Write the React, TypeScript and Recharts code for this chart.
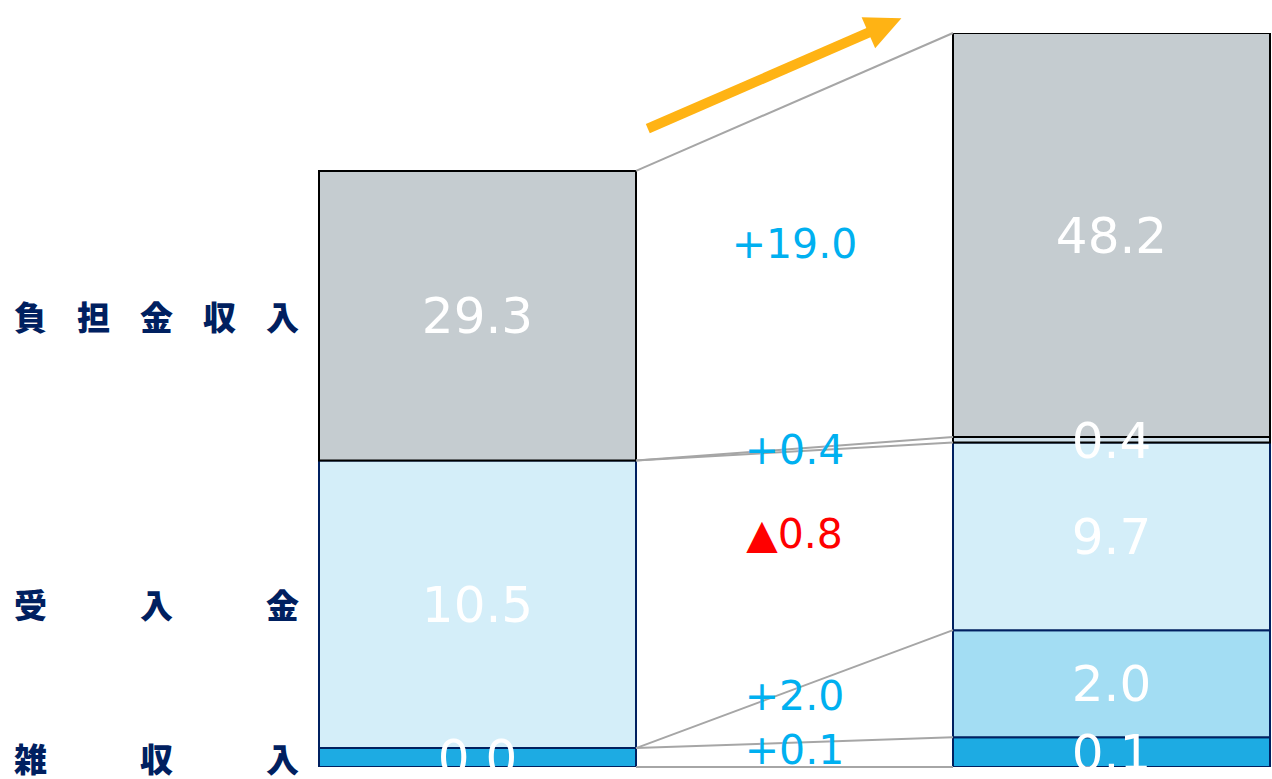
import React from 'react';
import { BarChart, Bar, XAxis, YAxis, LabelList, ReferenceLine, ReferenceDot } from 'recharts';

// left bar (bottom -> top)
const leftNames = ['雑収入', '受入金', '負担金収入'];
const leftValues = [0.04, 10.5, 29.3];
const leftKeys = ['zatsu', 'ukeire', 'futan'];

// right bar (bottom -> top)
const rightValues = [0.1, 2.0, 9.7, 0.4, 48.2];
const rightKeys = ['r1', 'r2', 'r3', 'r4', 'r5'];

// change labels shown between the bars
const diffTexts = ['+19.0', '+0.4', '▲0.8', '+2.0', '+0.1'];

const NAVY = '#002060';
const leftFill = ['#1DABE3', '#D4EEF9', '#C5CCD0'];
const leftStroke = [NAVY, NAVY, '#000000'];
const rightFill = ['#1DABE3', '#A3DDF3', '#D4EEF9', '#CFDFE9', '#C5CCD0'];
const rightStroke = [NAVY, NAVY, NAVY, '#000000', '#000000'];

const cum = (arr: number[]) => arr.reduce<number[]>((acc, v) => [...acc, acc[acc.length - 1] + v], [0]);
const leftCum = cum(leftValues);
const rightCum = cum(rightValues);
const total = rightCum[rightCum.length - 1];

// connector lines: [left boundary index, right boundary index]
const connectors = [[3, 5], [2, 4], [2, 3], [1, 2], [1, 1], [0, 0]];

const mid = (a: number, b: number) => (a + b) / 2;
// anchors for change labels: between left and right segment centres
const diffAnchors = [
  mid(mid(leftCum[2], leftCum[3]), mid(rightCum[4], rightCum[5])),
  mid(leftCum[2], mid(rightCum[3], rightCum[4])),
  mid(mid(leftCum[1], leftCum[2]), mid(rightCum[2], rightCum[3])),
  mid(leftCum[1], mid(rightCum[1], rightCum[2])),
  mid(mid(leftCum[0], leftCum[1]), mid(rightCum[0], rightCum[1])),
];

const data = [
  Object.fromEntries([['name', 'L'], ...leftKeys.map((k, i) => [k, leftValues[i]])]),
  { name: 'G' },
  Object.fromEntries([['name', 'R'], ...rightKeys.map((k, i) => [k, rightValues[i]])]),
];

// tick values at the visual centre of each left segment (sqrt axis)
const leftTicks = leftValues.map((_, i) => Math.pow((Math.sqrt(leftCum[i]) + Math.sqrt(leftCum[i + 1])) / 2, 2));

const FONT = '"DejaVu Sans", Verdana, sans-serif';

const NameTick = (props: any) => {
  const { y, index } = props;
  const name = leftNames[index] ?? '';
  const chars = name.split('');
  const fs = 33;
  const x0 = 14 + fs / 2;
  const x1 = 299 - fs / 2;
  return (
    <g>
      {chars.map((c, i) => (
        <text
          key={i}
          x={chars.length > 1 ? x0 + ((x1 - x0) * i) / (chars.length - 1) : x0}
          y={y}
          textAnchor="middle"
          dominantBaseline="central"
          fontFamily='"Noto Sans CJK JP", sans-serif'
          fontWeight={900}
          fontSize={fs}
          fill={NAVY}
        >
          {c}
        </text>
      ))}
    </g>
  );
};

const ArrowConnector = (props: any) => {
  const { x1, y1, x2, y2 } = props;
  const dx = x2 - x1;
  const dy = y2 - y1;
  const len = Math.sqrt(dx * dx + dy * dy);
  const ux = dx / len;
  const uy = dy / len;
  const nx = uy * 34;
  const ny = -ux * 34;
  const sx = x1 + ux * len * 0.08 + nx;
  const sy = y1 + uy * len * 0.08 + ny;
  const ex = x1 + ux * len * 0.88 + nx;
  const ey = y1 + uy * len * 0.88 + ny;
  const hl = 36;
  const hw = 17;
  const bx = ex - ux * hl;
  const by = ey - uy * hl;
  return (
    <g>
      <line x1={x1} y1={y1} x2={x2} y2={y2} stroke="#A6A6A6" strokeWidth={2} />
      <line x1={sx} y1={sy} x2={bx + ux * 2} y2={by + uy * 2} stroke="#FFB314" strokeWidth={10} />
      <polygon
        points={`${ex},${ey} ${bx - uy * hw},${by + ux * hw} ${bx + uy * hw},${by - ux * hw}`}
        fill="#FFB314"
      />
    </g>
  );
};

const fmt = (v: any) => (typeof v === 'number' ? v.toFixed(1) : '');

export default function App() {
  return (
    <div style={{ position: 'absolute', left: 0, top: 0, width: 1272, height: 779 }}>
      <BarChart
        width={1272}
        height={779}
        data={data}
        margin={{ top: 33, right: 2, bottom: 12, left: 0 }}
        barCategoryGap={0}
        barGap={0}
      >
        <XAxis dataKey="name" hide />
        <YAxis
          width={319}
          scale="sqrt"
          type="number"
          domain={[0, total]}
          allowDataOverflow
          ticks={leftTicks}
          interval={0}
          axisLine={false}
          tickLine={false}
          tick={<NameTick />}
        />
        {leftKeys.map((k, i) => (
          <Bar
            key={k}
            dataKey={k}
            stackId="a"
            fill={leftFill[i]}
            stroke={leftStroke[i]}
            strokeWidth={2}
            isAnimationActive={false}
          >
            <LabelList dataKey={k} position="center" formatter={fmt} fill="#FFFFFF" fontSize={50} fontFamily={FONT} />
          </Bar>
        ))}
        {rightKeys.map((k, i) => (
          <Bar
            key={k}
            dataKey={k}
            stackId="a"
            fill={rightFill[i]}
            stroke={rightStroke[i]}
            strokeWidth={2}
            isAnimationActive={false}
          >
            <LabelList dataKey={k} position="center" formatter={fmt} fill="#FFFFFF" fontSize={50} fontFamily={FONT} />
          </Bar>
        ))}
        {connectors.map(([li, ri], i) => (
          <ReferenceLine
            key={`c${i}`}
            segment={[
              { x: 'G', y: leftCum[li] },
              { x: 'R', y: rightCum[ri] },
            ]}
            position="start"
            ifOverflow="visible"
            stroke="#A6A6A6"
            strokeWidth={2}
            shape={i === 0 ? ArrowConnector : undefined}
          />
        ))}
        {diffTexts.map((t, i) => (
          <ReferenceDot
            key={`d${i}`}
            x="G"
            y={diffAnchors[i]}
            r={0}
            ifOverflow="visible"
            fill="none"
            stroke="none"
            label={{
              value: t,
              position: 'center',
              fill: t.startsWith('▲') ? '#FF0000' : '#00B0F0',
              fontSize: 41,
              fontFamily: FONT,
            }}
          />
        ))}
      </BarChart>
    </div>
  );
}
